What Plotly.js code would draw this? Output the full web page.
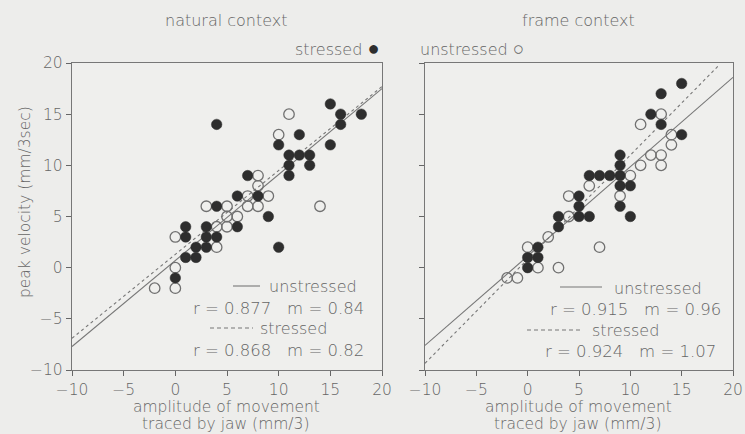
<!DOCTYPE html>
<html><head><meta charset="utf-8">
<script src="https://cdn.plot.ly/plotly-3.0.1.min.js"></script>
<style>html,body{margin:0;padding:0;background:#ededeb}</style>
</head><body><div id="chart" style="width:745px;height:434px"></div>
<script>
// natural context
const natUnX = [11,10,8,8,7,9,7,8,14,3,5,5,6,4,5,0,4,0,-2,0];
const natUnY = [15,13,9,8,7,7,6,6,6,6,6,5,5,4,4,3,2,0,-2,-2];
const natStX = [15,16,18,16,15,4,12,10,11,12,13,11,13,11,7,6,8,9,4,6,1,3,1,3,4,2,3,10,1,2,0];
const natStY = [16,15,15,14,12,14,13,12,11,11,11,10,10,9,9,7,7,5,6,4,4,4,3,3,3,2,2,2,1,1,-1];
// frame context
const frUnX = [13,11,14,14,12,13,13,11,10,6,4,9,4,2,0,7,1,3,-2,-1];
const frUnY = [15,14,13,12,11,11,10,10,9,8,7,7,5,3,2,2,0,0,-1,-1];
const frStX = [15,13,12,13,15,9,9,6,7,8,9,9,10,5,5,9,3,5,6,10,3,1,0,1,0];
const frStY = [18,17,15,14,13,11,10,9,9,9,9,8,8,7,6,6,5,5,5,5,4,2,1,1,0];
// regression lines (end points)
const natUnLineX = [-10,20], natUnLineY = [-7.7,17.5];
const natStLineX = [-10,20], natStLineY = [-6.9,17.7];
const frUnLineX = [-10,20], frUnLineY = [-7.6,18.6];
const frStLineX = [-10,18.6], frStLineY = [-9.35,19.75];
const tickVals = [-10,-5,0,5,10,15,20];
const tickText = ['\u221210','\u22125','0','5','10','15','20'];

const ink = '#666666';
const dark = '#2e2e2e';
const F = '"DejaVu Sans", sans-serif';

function pts(x,y,open,xa,ya){
  return {x:x,y:y,xaxis:xa,yaxis:ya,mode:'markers',type:'scatter',showlegend:false,cliponaxis:false,
    marker:open?{symbol:'circle-open',size:10.5,color:'#707070',line:{width:1.3,color:'#707070'}}
               :{symbol:'circle',size:10.5,color:dark,line:{width:0.5,color:dark}}};
}
function ln(x,y,dash,xa,ya){
  return {x:x,y:y,xaxis:xa,yaxis:ya,mode:'lines',type:'scatter',showlegend:false,
    line:{color:'#777',width:1.1,dash:dash}};
}
const data = [
  ln(natUnLineX,natUnLineY,'solid','x','y'),
  ln(natStLineX,natStLineY,'3px,3px','x','y'),
  pts(natUnX,natUnY,true,'x','y'),
  pts(natStX,natStY,false,'x','y'),
  ln(frUnLineX,frUnLineY,'solid','x2','y2'),
  ln(frStLineX,frStLineY,'3px,3px','x2','y2'),
  pts(frUnX,frUnY,true,'x2','y2'),
  pts(frStX,frStY,false,'x2','y2')
];
const yd = [1-370/434, 1-63/434];
const tf = {family:F,size:15.5,color:ink,weight:300};
function xax(dom, anchor){
  return {domain:dom,anchor:anchor,range:[-10,20],tickvals:tickVals,ticktext:tickText,
    ticks:'outside',ticklen:5,tickcolor:ink,tickwidth:1,showgrid:false,zeroline:false,
    showline:true,linecolor:'#777',linewidth:1.2,mirror:true,tickfont:tf};
}
function yax(anchor, labels){
  return {domain:yd,anchor:anchor,range:[-10,20],tickvals:tickVals,ticktext:tickText,
    ticks:'outside',ticklen:5,tickcolor:ink,tickwidth:1,showgrid:false,zeroline:false,
    showline:true,linecolor:'#777',linewidth:1.2,mirror:true,showticklabels:labels,tickfont:tf};
}
function ov(base, anchor, isY){
  return {overlaying:base,anchor:anchor,range:[-10,20],tickvals:tickVals,ticks:'inside',ticklen:5,
    tickcolor:ink,tickwidth:1,showticklabels:false,showgrid:false,zeroline:false,showline:false,
    side:isY?'left':'bottom'};
}
const xd1 = [72/745, 382/745], xd2 = [425/745, 733/745];
function ann(x,y,text,anchor,size){
  return {xref:'paper',yref:'paper',x:x/745,y:1-y/434,text:text,showarrow:false,
    xanchor:anchor||'center',yanchor:'middle',font:{family:F,size:size||16.5,color:ink,weight:300}};
}
function seg(x0,x1,y,dash){
  return {type:'line',xref:'paper',yref:'paper',x0:x0/745,x1:x1/745,y0:1-y/434,y1:1-y/434,
    line:{color:'#777',width:1.1,dash:dash}};
}
const layout = {
  width:745,height:434,margin:{l:0,r:0,t:0,b:0},
  paper_bgcolor:'#ededeb',plot_bgcolor:'#efefed',
  xaxis:xax(xd1,'y'), yaxis:yax('x',true),
  xaxis2:xax(xd2,'y2'), yaxis2:yax('x2',false),
  xaxis3:ov('x','y',false), yaxis3:ov('y','x',true),
  xaxis4:ov('x2','y2',false), yaxis4:ov('y2','x2',true),
  shapes:[
    seg(233,260,286,'solid'),
    seg(210,253,328,'4px,3px'),
    seg(560,602,287,'solid'),
    seg(527,580,330,'4px,3px')
  ],
  annotations:[
    ann(226,21,'natural context','center',16),
    ann(578,21,'frame context','center',16),
    ann(382,48,'stressed <span style="font-size:20px;color:#2e2e2e">\u25CF</span>','right',16),
    ann(418,48,'unstressed <span style="font-size:19px">\u25CB</span>','left',16),
    {xref:'paper',yref:'paper',x:25/745,y:1-202/434,text:'peak velocity (mm/3sec)',textangle:-90,
      showarrow:false,xanchor:'center',yanchor:'middle',font:{family:F,size:15.5,color:ink,weight:300}},
    ann(226,407,'amplitude of movement','center',15.5),
    ann(226,424,'traced by jaw (mm/3)','center',15.5),
    ann(578,407,'amplitude of movement','center',15.5),
    ann(578,424,'traced by jaw (mm/3)','center',15.5),
    ann(359,286,'unstressed','right',16),
    ann(366,308,'r = 0.877   m = 0.84','right'),
    ann(329,328,'stressed','right',16),
    ann(366,350,'r = 0.868   m = 0.82','right'),
    ann(704,288,'unstressed','right',16),
    ann(723,309,'r = 0.915   m = 0.96','right'),
    ann(661,330,'stressed','right',16),
    ann(718,351,'r = 0.924   m = 1.07','right')
  ]
};
Plotly.newPlot('chart',data,layout,{staticPlot:true});
</script></body></html>
